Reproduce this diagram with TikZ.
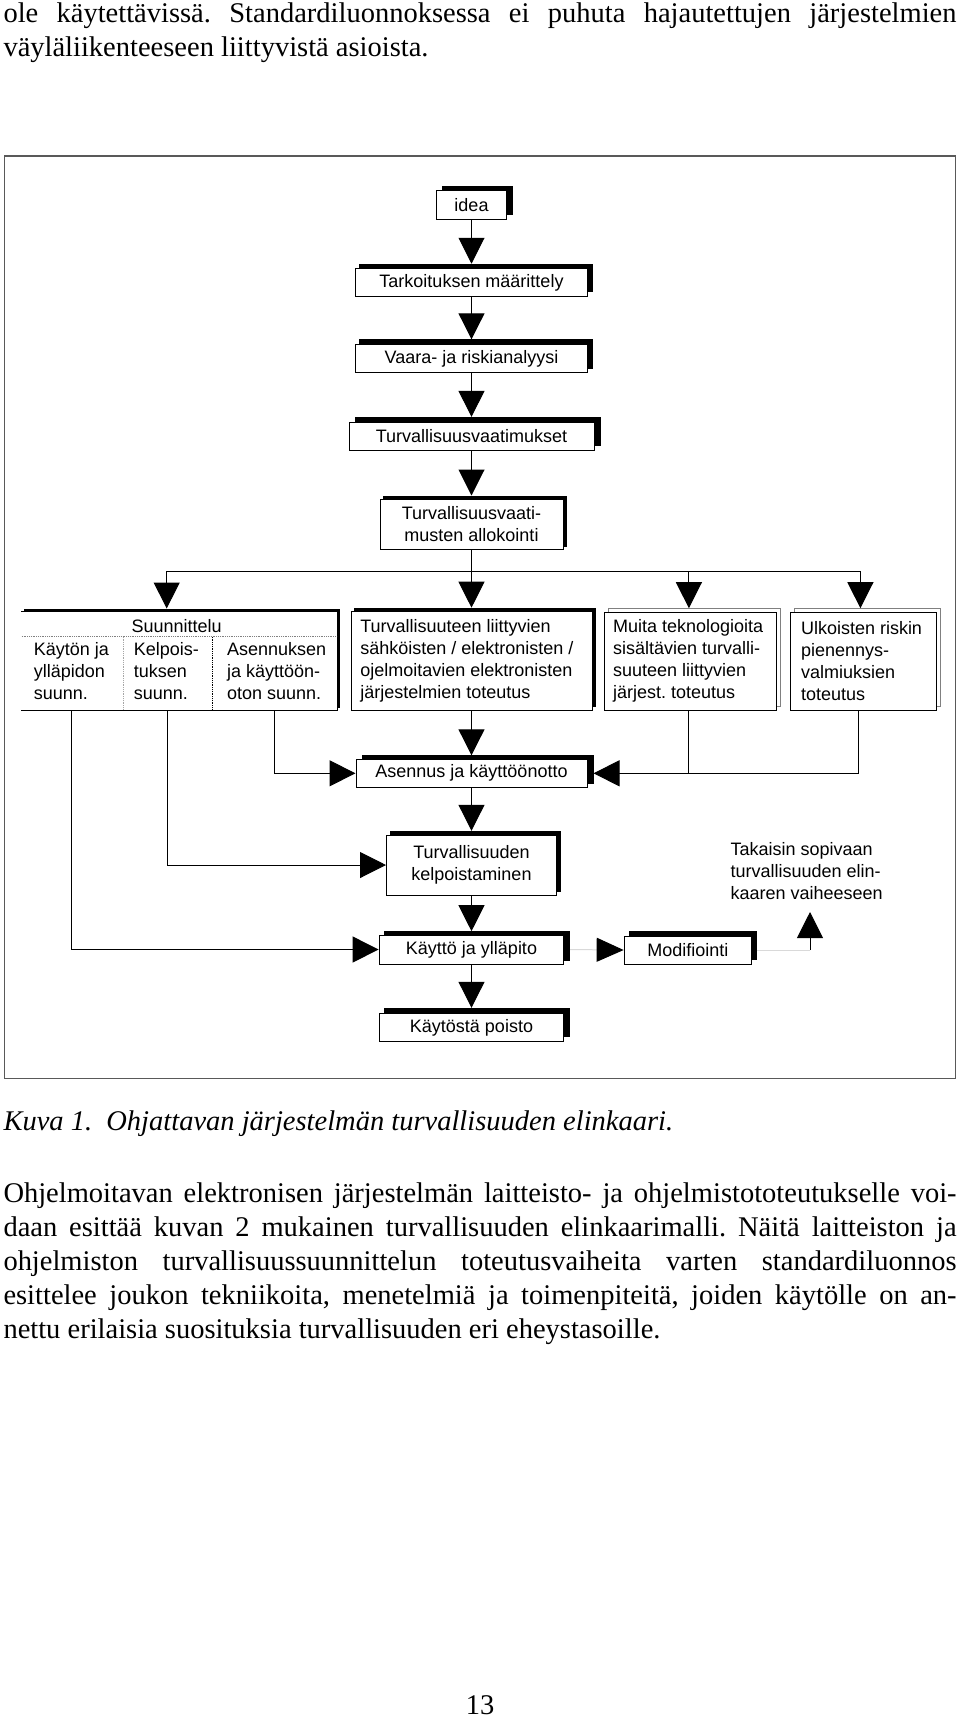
\documentclass[tikz,border=0pt]{standalone}
\usepackage{fontspec}
\setmainfont{Liberation Serif}
\newfontfamily\bxfont{Liberation Sans}
\usetikzlibrary{arrows.meta,shadows,calc}
\definecolor{framegray}{gray}{0.35}
\definecolor{lightline}{gray}{0.85}
\newcommand{\bxsize}{\bxfont\fontsize{18}{22}\selectfont}
\newcommand{\bodysize}{\fontsize{28.5}{34}\selectfont}
\frenchspacing
\begin{document}
\begin{tikzpicture}[x=1pt,y=-1pt,
  line width=1pt,
  bxbase/.style={draw=black, line width=1pt, fill=white, inner sep=0pt, align=center, font=\bxsize},
  shd/.style 2 args={copy shadow={shadow xshift=#1, shadow yshift=#2, fill=black, draw=black}},
  dbl/.style={copy shadow={shadow xshift=4pt, shadow yshift=3.3pt, fill=white, draw=gray}},
  arr/.style={-{Triangle[length=26pt,width=26pt]}},
  txt/.style={inner sep=0pt, font=\bxsize, align=left, anchor=west},
  body/.style={inner sep=0pt, anchor=base west, font=\bodysize}]
\useasboundingbox (0,0) rectangle (960,1717);

% text above
\node[body] (t1) at (3,22.5) {\makebox[953pt][s]{ole käytettävissä. Standardiluonnoksessa ei puhuta hajautettujen järjestelmien}};
\node[body] (t2) at (3,56.5) {väyläliikenteeseen liittyvistä asioista.};

% frame
\draw[framegray, line width=1.2pt] (4.4,156) rectangle (955.6,1078.5);

% main column
\node[bxbase, shd={6pt}{4.7pt}, minimum width=69.4pt, minimum height=28.6pt] (idea) at (471.5,205) {idea};
\node[bxbase, shd={4.6pt}{4.7pt}, minimum width=232.7pt, minimum height=27.7pt] (tark) at (471.5,282.8) {Tarkoituksen määrittely};
\node[bxbase, shd={4.6pt}{4.5pt}, minimum width=232.7pt, minimum height=28.4pt] (vaara) at (471.5,358.5) {Vaara- ja riskianalyysi};
\node[bxbase, shd={6pt}{5pt}, minimum width=245pt, minimum height=27.7pt] (tvaat) at (471.5,436.2) {Turvallisuusvaatimukset};
\node[bxbase, shd={3pt}{3.3pt}, minimum width=183pt, minimum height=50pt] (alloc) at (471.5,524.3) {Turvallisuusvaati-\\musten allokointi};

\draw[arr, shorten >=4.7pt] (idea.south) -- (tark.north);
\draw[arr, shorten >=4.5pt] (tark.south) -- (vaara.north);
\draw[arr, shorten >=5pt] (vaara.south) -- (tvaat.north);
\draw[arr, shorten >=3.3pt] (tvaat.south) -- (alloc.north);

% Suunnittelu box
\node[fill=white, inner sep=0pt, minimum width=315pt, minimum height=98pt, shd={3pt}{3pt}] (suun) at (179.2,661) {};
\draw (suun.north west) -- (suun.north east) -- (suun.south east) -- (suun.south west);
\coordinate (dl) at (21.7,636.7);
\coordinate (dr) at (336.7,636.7);
\draw[densely dotted, gray, line width=0.8pt] (dl) -- (dr);
\coordinate (v1t) at (123.3,636.7);
\coordinate (v1b) at (123.3,710);
\coordinate (v2t) at (212.3,636.7);
\coordinate (v2b) at (212.3,710);
\draw[densely dotted, gray!70, line width=0.8pt] (v1t) -- (v1b);
\draw[densely dotted, line width=0.8pt] (v2t) -- (v2b);
\node[inner sep=0pt, font=\bxsize] (suunt) at (176.7,626) {Suunnittelu};
\node[txt] (s1) at (33.3,671) {Käytön ja\\ylläpidon\\suunn.};
\node[txt] (s2) at (133.3,671) {Kelpois-\\tuksen\\suunn.};
\node[txt] (s3) at (226.7,671) {Asennuksen\\ja käyttöön-\\oton suunn.};

% other row boxes
\node[bxbase, shd={3.5pt}{3.5pt}, minimum width=241pt, minimum height=98.3pt] (turv) at (471.5,660.85) {};
\node[txt] (turvt) at (359.8,661) {Turvallisuuteen liittyvien\\sähköisten / elektronisten /\\ojelmoitavien elektronisten\\järjestelmien toteutus};
\node[bxbase, dbl, minimum width=172pt, minimum height=98pt] (muita) at (690.8,661) {};
\node[txt] (muitat) at (612.7,661) {Muita teknologioita\\sisältävien turvalli-\\suuteen liittyvien\\järjest. toteutus};
\node[bxbase, dbl, minimum width=146.2pt, minimum height=98pt] (ulk) at (863.7,661) {};
\node[txt] (ulkt) at (800.5,661) {Ulkoisten riskin\\pienennys-\\valmiuksien\\toteutus};

% distribution
\coordinate (j0) at (471.5,571);
\coordinate (jl) at (166.7,571);
\coordinate (jm) at (688.9,571);
\coordinate (jr) at (860.4,571);
\draw (alloc.south) -- (j0);
\draw (jl) -- (jr);
\draw[arr, shorten >=3pt] (jl) -- (jl |- suun.north);
\draw[arr, shorten >=3.5pt] (j0) -- (turv.north);
\draw[arr, shorten >=3.3pt] (jm) -- (jm |- muita.north);
\draw[arr, shorten >=3.3pt] (jr) -- (jr |- ulk.north);

% lower boxes
\node[bxbase, shd={6pt}{4.3pt}, minimum width=231pt, minimum height=28pt] (asen) at (471.5,773.3) {Asennus ja käyttöönotto};
\node[bxbase, shd={4.3pt}{3.7pt}, minimum width=170pt, minimum height=60pt] (kelp) at (471.5,865) {Turvallisuuden\\kelpoistaminen};
\node[bxbase, shd={5.7pt}{3.3pt}, minimum width=184.8pt, minimum height=29pt] (kaytto) at (471.5,949.5) {Käyttö ja ylläpito};
\node[bxbase, shd={5.5pt}{5pt}, minimum width=127.3pt, minimum height=28pt] (modif) at (687.8,950) {Modifiointi};
\node[bxbase, shd={5.7pt}{5pt}, minimum width=184.8pt, minimum height=28.4pt] (poisto) at (471.5,1027.5) {Käytöstä poisto};
\node[txt] (tak) at (730,871.5) {Takaisin sopivaan\\turvallisuuden elin-\\kaaren vaiheeseen};

\coordinate (c1) at (71.7,710);
\coordinate (c2) at (167.7,710);
\coordinate (c3) at (274,710);
\coordinate (mb) at (688.5,710);
\coordinate (ub) at (858,710);
\draw[arr] (c1) |- (kaytto.west);
\draw[arr] (c2) |- (kelp.west);
\draw[arr] (c3) |- (asen.west);
\draw[arr, shorten >=3.5pt] (turv.south) -- (asen.north);
\draw (mb) -- (mb |- asen.east);
\draw[arr, shorten >=6pt] (ub) |- (asen.east);
\draw[arr, shorten >=3.7pt] (asen.south) -- (kelp.north);
\draw[arr, shorten >=3.3pt] (kelp.south) -- (kaytto.north);
\draw[arr, shorten >=5pt] (kaytto.south) -- (poisto.north);
\draw[lightline, shorten <=5.7pt, -{Triangle[length=27pt,width=24pt,color=black]}] (kaytto.east) -- (modif.west);
\coordinate (rb) at (810,950);
\coordinate (rt) at (810,912);
\draw[lightline, shorten <=5.5pt] (modif.east) -- (rb);
\draw[arr] (rb) -- (rt);

% caption and paragraph
\node[body, font=\bodysize\itshape] (cap) at (3,1130.5) {Kuva 1.\ \ Ohjattavan järjestelmän turvallisuuden elinkaari.};
\node[body] (p1) at (3,1202.6) {\makebox[953pt][s]{Ohjelmoitavan elektronisen järjestelmän laitteisto- ja ohjelmistototeutukselle voi-}};
\node[body] (p2) at (3,1236.5) {\makebox[953pt][s]{daan esittää kuvan 2 mukainen turvallisuuden elinkaarimalli. Näitä laitteiston ja}};
\node[body] (p3) at (3,1270.4) {\makebox[953pt][s]{ohjelmiston turvallisuussuunnittelun toteutusvaiheita varten standardiluonnos}};
\node[body] (p4) at (3,1304.3) {\makebox[953pt][s]{esittelee joukon tekniikoita, menetelmiä ja toimenpiteitä, joiden käytölle on an-}};
\node[body] (p5) at (3,1338.2) {nettu erilaisia suosituksia turvallisuuden eri eheystasoille.};
\node[inner sep=0pt, anchor=base, font=\bodysize] (pg) at (480,1714) {13};
\end{tikzpicture}
\end{document}
